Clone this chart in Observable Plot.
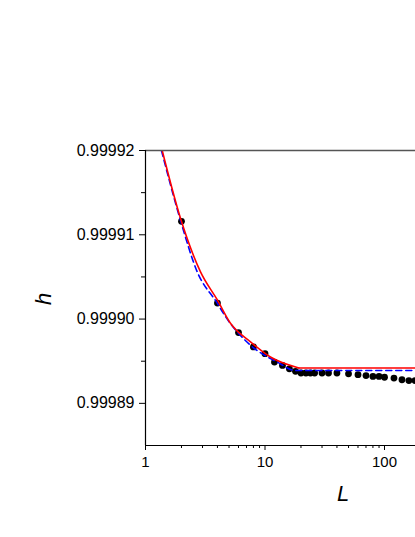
<!DOCTYPE html>
<html><head><meta charset="utf-8">
<script src="https://cdn.jsdelivr.net/npm/d3@7"></script>
<script src="https://cdn.jsdelivr.net/npm/@observablehq/plot@0.6"></script>
<style>body{margin:0;background:#fff} svg{display:block}</style>
</head><body><div id="chart"></div>
<script>
// Simulation points (black dots)
const dotL = [2,4,6,8,10,12,14,16,18,20,22,24,26,30,34,40,50,60,70,80,90,100,120,140,160,180];
const dotH = [0.9999116,0.9999019,0.9998984,0.9998967,0.9998959,0.9998949,0.9998945,0.9998941,0.9998938,0.9998936,0.9998936,0.9998936,0.9998936,0.9998936,0.9998936,0.9998936,0.9998935,0.9998934,0.9998933,0.9998932,0.9998932,0.9998931,0.9998930,0.9998928,0.9998927,0.9998927];

// Red solid curve, with a kink where it becomes flat
const redL   = [1.38, 1.963, 2.886, 3.98, 5.14, 7.56, 11.1, 19.2, 19.2, 182];
const redH   = [0.99992, 0.99991195, 0.9999056, 0.9999023, 0.9998995, 0.9998973, 0.9998955, 0.9998942, 0.9998942, 0.9998942];
const redSeg = ["a","a","a","a","a","a","a","a","b","b"];

// Blue dashed curve
const blueL = [1.36, 1.963, 2.71, 3.98, 4.67, 7.56, 12.65, 18, 182];
const blueH = [0.99992, 0.9999117, 0.9999056, 0.9999019, 0.9999003, 0.9998969, 0.9998949, 0.9998939, 0.9998939];

// Ticks
const xMajor = [1, 10, 100];
const xMinor = [2,3,4,5,6,7,8,9,20,30,40,50,60,70,80,90];
const yMajor = [0.99989, 0.99990, 0.99991, 0.99992];
const yMinor = [0.999895, 0.999905, 0.999915];
const xDomain = [1, 181.7];
const yDomain = [0.999885, 0.99992];

const dots = dotL.map((L, i) => ({L, h: dotH[i]}));
const red = redL.map((L, i) => ({L, h: redH[i], seg: redSeg[i]}));
const blue = blueL.map((L, i) => ({L, h: blueH[i]}));

const chart = Plot.plot({
  width: 415,
  height: 537,
  marginTop: 150,
  marginBottom: 92,
  marginLeft: 145,
  marginRight: 0,
  style: {fontFamily: "'Liberation Sans', Arial, sans-serif", background: "#fff", color: "#000"},
  x: {type: "log", domain: xDomain, label: null, axis: null},
  y: {type: "linear", domain: yDomain, label: null, axis: null},
  marks: [
    Plot.dot(dots, {x: "L", y: "h", r: 3.4, fill: "#000", stroke: "none"}),
    Plot.line(blue, {x: "L", y: "h", stroke: "#0000ff", strokeWidth: 1.6, strokeDasharray: "6,4", curve: "monotone-x", clip: true}),
    Plot.line(red, {x: "L", y: "h", z: "seg", stroke: "#ff0000", strokeWidth: 1.6, curve: "monotone-x", clip: true}),
    Plot.ruleY([yDomain[1]], {stroke: "#555", strokeWidth: 1.3}),
    Plot.ruleX([xDomain[0]], {stroke: "#000", strokeWidth: 1.2}),
    Plot.ruleY([yDomain[0]], {stroke: "#000", strokeWidth: 1.2}),
    Plot.axisX(xMajor, {tickSize: 5, tickPadding: 6, tickFormat: d => String(d), fontSize: 15, label: null}),
    Plot.axisX(xMinor, {tickSize: 3, tickFormat: () => "", label: null}),
    Plot.axisY(yMajor, {tickSize: 6, tickPadding: 5, tickFormat: d3.format(".5f"), fontSize: 16, label: null}),
    Plot.axisY(yMinor, {tickSize: 4, tickFormat: () => "", label: null}),
    Plot.text(["h"], {frameAnchor: "left", dx: -102, dy: 7, rotate: -90, lineAnchor: "middle", fontSize: 22, fontStyle: "italic", fill: "#000"}),
    Plot.text(["L"], {frameAnchor: "bottom", dx: 62.5, dy: 48, lineAnchor: "middle", fontSize: 22, fontStyle: "italic", fill: "#000"})
  ]
});
document.getElementById("chart").appendChild(chart);
</script>
</body></html>
